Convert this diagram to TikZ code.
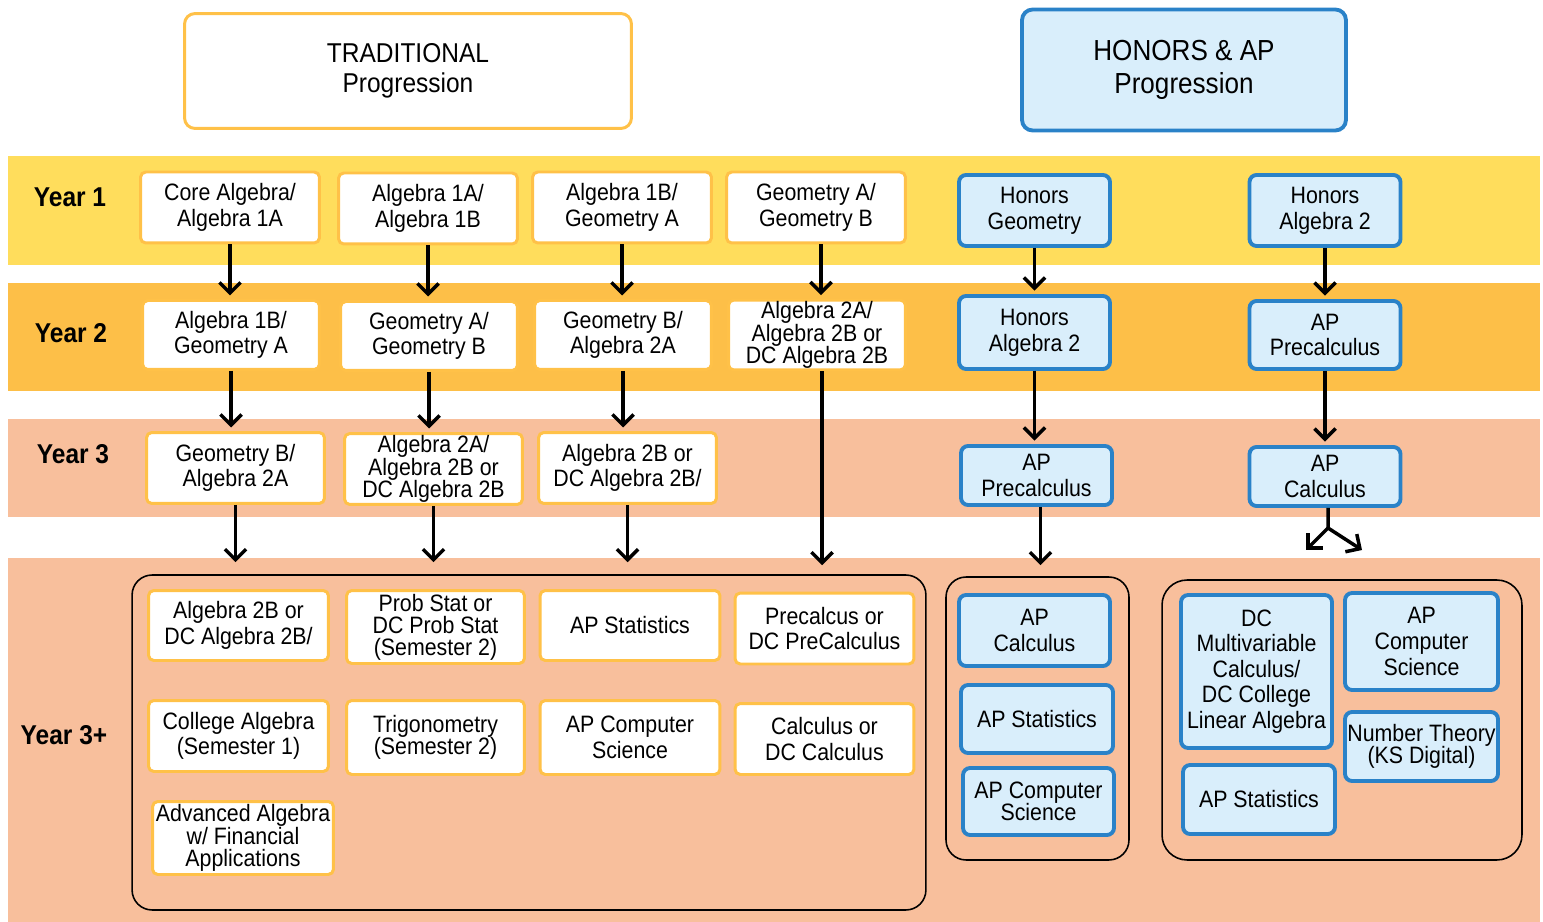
\documentclass[tikz,border=0pt]{standalone}
\usepackage{fontspec}
\setmainfont{Liberation Sans}[FakeStretch=0.9]
\usetikzlibrary{arrows.meta}

\definecolor{yrone}{RGB}{255,221,92}
\definecolor{yrtwo}{RGB}{253,191,72}
\definecolor{yrthree}{RGB}{248,191,156}
\definecolor{tradline}{RGB}{255,193,72}
\definecolor{honfill}{RGB}{217,238,251}
\definecolor{honline}{RGB}{42,130,200}

\newcommand{\bxfont}{\fontsize{13.5}{14.6}\selectfont}
\newcommand{\tightfont}{\fontsize{13.5}{12.6}\selectfont}

\begin{document}
\begin{tikzpicture}[x=0.02cm,y=-0.02cm,
  trad/.style={draw=tradline, line width=1.7pt, fill=white, rounded corners=3pt,
    align=center, inner sep=1pt, font=\bxfont, minimum width=3.58cm, minimum height=1.42cm},
  hon/.style={draw=honline, line width=2.2pt, fill=honfill, rounded corners=4pt,
    align=center, inner sep=1pt, font=\bxfont, minimum width=3.02cm, minimum height=1.42cm},
  tight/.style={font=\tightfont},
  grp/.style={draw=black, line width=0.9pt, rounded corners=0.4cm},
  yearlbl/.style={font=\fontsize{15.5}{17}\selectfont\bfseries},
  arr/.style={-{Straight Barb[length=6pt,width=12pt]}, line width=2pt, shorten >=2pt},
]
\useasboundingbox (0,0) rectangle (1543,922);

% headers
\node[trad, font=\fontsize{15.5}{17}\selectfont, minimum width=8.94cm, minimum height=2.3cm, rounded corners=6pt] (tradhd) at (408,71) {TRADITIONAL\\Progression};
\node[hon, font=\fontsize{16.5}{18.5}\selectfont, minimum width=6.48cm, minimum height=2.42cm, rounded corners=6pt] (honhd) at (1184,70) {HONORS \& AP\\Progression};

% year bands
\fill[yrone] (8,156) rectangle (1540,265);
\fill[yrtwo] (8,283) rectangle (1540,391);
\fill[yrthree] (8,419) rectangle (1540,517);
\fill[yrthree] (8,558) rectangle (1540,922);

\node[yearlbl] (y1) at (70,197) {Year 1};
\node[yearlbl] (y2) at (71,333) {Year 2};
\node[yearlbl] (y3) at (73,454) {Year 3};
\node[yearlbl] (y3p) at (64,735) {Year 3+};

% year 1
\node[trad] (a1) at (230,207.5) {Core Algebra/\\Algebra 1A};
\node[trad] (b1) at (428,208.5) {Algebra 1A/\\Algebra 1B};
\node[trad] (c1) at (622,207.5) {Algebra 1B/\\Geometry A};
\node[trad] (d1) at (816,207.5) {Geometry A/\\Geometry B};
\node[hon] (h1) at (1034.5,210.5) {Honors\\Geometry};
\node[hon] (k1) at (1325,210.5) {Honors\\Algebra 2};

% year 2
\node[trad, minimum width=3.54cm, minimum height=1.38cm] (a2) at (231,335) {Algebra 1B/\\Geometry A};
\node[trad, minimum width=3.54cm, minimum height=1.38cm] (b2) at (429,336) {Geometry A/\\Geometry B};
\node[trad, minimum width=3.54cm, minimum height=1.38cm] (c2) at (623,335) {Geometry B/\\Algebra 2A};
\node[trad, tight, minimum width=3.54cm, minimum height=1.38cm] (d2) at (817,335) {Algebra 2A/\\Algebra 2B or\\DC Algebra 2B};
\node[hon, minimum height=1.46cm] (h2) at (1034.5,332.5) {Honors\\Algebra 2};
\node[hon, minimum height=1.36cm] (k2) at (1325,335) {AP\\Precalculus};

% year 3
\node[trad, minimum width=3.56cm] (a3) at (235.5,468) {Geometry B/\\Algebra 2A};
\node[trad, tight, minimum width=3.56cm] (b3) at (433.5,469) {Algebra 2A/\\Algebra 2B or\\DC Algebra 2B};
\node[trad, minimum width=3.56cm] (c3) at (627.5,468) {Algebra 2B or\\DC Algebra 2B/};
\node[hon, minimum height=1.18cm] (h3) at (1036.5,475.5) {AP\\Precalculus};
\node[hon, minimum height=1.18cm] (k3) at (1325,476.5) {AP\\Calculus};

% year 3+ groups
\node[grp, minimum width=15.88cm, minimum height=6.7cm] (tgrp) at (529,742.5) {};
\node[grp, minimum width=3.66cm, minimum height=5.66cm] (mgrp) at (1037.5,718.5) {};
\node[grp, minimum width=7.2cm, minimum height=5.6cm, rounded corners=0.5cm] (rgrp) at (1342,720) {};

\node[trad, minimum width=3.6cm, minimum height=1.4cm] (p1) at (238.5,625.5) {Algebra 2B or\\DC Algebra 2B/};
\node[trad, tight, minimum width=3.56cm, minimum height=1.46cm] (p2) at (435.5,627) {Prob Stat or\\DC Prob Stat\\(Semester 2)};
\node[trad, minimum width=3.6cm, minimum height=1.4cm] (p3) at (630,625.5) {AP Statistics};
\node[trad, minimum width=3.58cm, minimum height=1.42cm] (p4) at (824.5,628.5) {Precalcus or\\DC PreCalculus};
\node[trad, minimum width=3.6cm, minimum height=1.42cm] (q1) at (238.5,736) {College Algebra\\(Semester 1)};
\node[trad, tight, minimum width=3.56cm, minimum height=1.48cm] (q2) at (435.5,737.5) {Trigonometry\\(Semester 2)};
\node[trad, minimum width=3.6cm, minimum height=1.48cm] (q3) at (630,737.5) {AP Computer\\Science};
\node[trad, minimum width=3.58cm, minimum height=1.42cm] (q4) at (824.5,739) {Calculus or\\DC Calculus};
\node[trad, tight, minimum width=3.62cm, minimum height=1.46cm] (r1) at (243,838) {Advanced Algebra\\w/ Financial\\Applications};

\node[hon] (m1) at (1034.5,630.5) {AP\\Calculus};
\node[hon, minimum width=3.04cm, minimum height=1.36cm] (m2) at (1037,719) {AP Statistics};
\node[hon, tight, minimum height=1.34cm] (m3) at (1038.5,801.5) {AP Computer\\Science};

\node[hon, minimum height=3.06cm] (s1) at (1256.5,671.5) {DC\\Multivariable\\Calculus/\\DC College\\Linear Algebra};
\node[hon, minimum width=3.06cm, minimum height=1.94cm] (s2) at (1421.5,641.5) {AP\\Computer\\Science};
\node[hon, tight, minimum width=3.06cm, minimum height=1.38cm] (s3) at (1421.5,746.5) {Number Theory\\(KS Digital)};
\node[hon, minimum width=3.04cm, minimum height=1.38cm] (s4) at (1259,799.5) {AP Statistics};

% arrows
\foreach \u/\v in {a1/a2,a2/a3,b1/b2,b2/b3,c1/c2,c2/c3,h1/h2,h2/h3,k1/k2,k2/k3}
  \draw[arr] (\u.south) -- (\u.south |- \v.north);
\draw[arr] ([xshift=0.1cm]d1.south) -- ([xshift=0.1cm]d1.south |- d2.north);
\foreach \u in {a3,b3,c3}
  \draw[arr, shorten >=0.24cm] (\u.south) -- (\u.south |- tgrp.north);
\draw[arr, shorten >=0.18cm] ([xshift=0.1cm]d2.south) -- ([xshift=0.1cm]d2.south |- tgrp.north);
\draw[arr, shorten >=0.22cm] ([xshift=0.08cm]h3.south) -- ([xshift=0.08cm]h3.south |- mgrp.north);

\coordinate (fk) at (1328,528);
\coordinate (fkl) at (1306,550);
\coordinate (fkr) at (1362,550);
\draw[line width=2pt] ([xshift=0.06cm]k3.south) -- (fk);
\draw[arr, shorten >=0pt] (fk) -- (fkl);
\draw[arr, shorten >=0pt] (fk) -- (fkr);
\end{tikzpicture}
\end{document}
